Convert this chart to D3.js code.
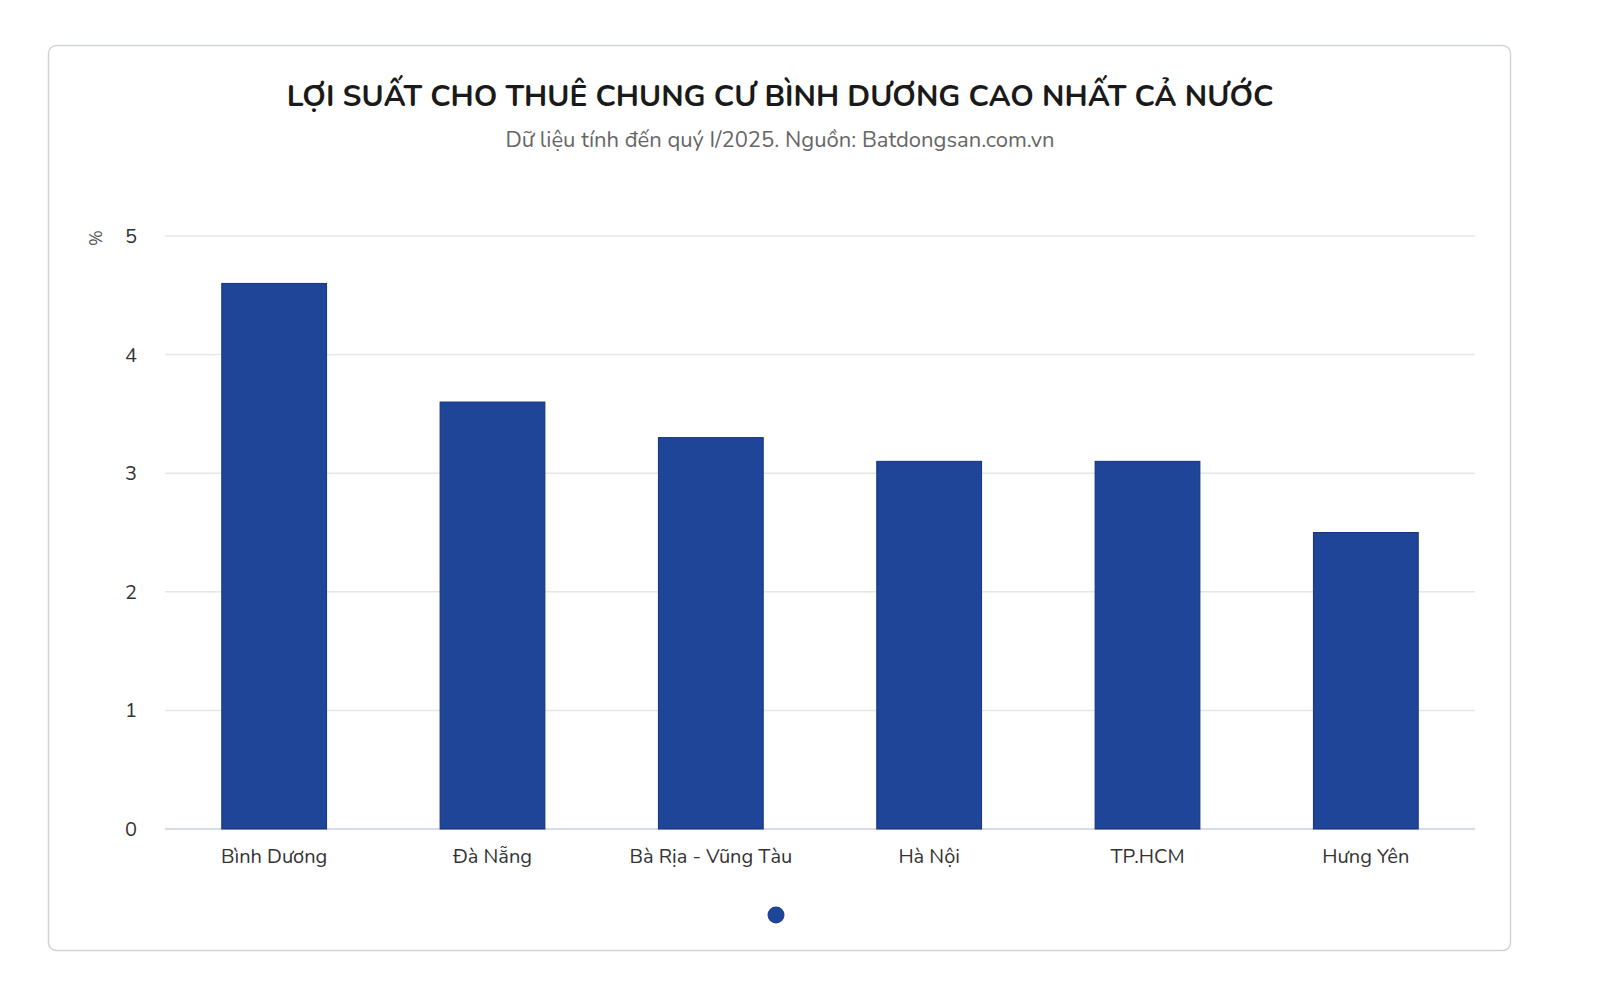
<!DOCTYPE html>
<html><head><meta charset="utf-8">
<script src="https://cdn.jsdelivr.net/npm/d3@7"></script>
<style>body{margin:0;background:#fff;font-family:"Nunito","Lato","Noto Sans",sans-serif;}</style>
</head><body><svg id="c" width="1600" height="1006"></svg>
<script>
var categories = ["Bình Dương", "Đà Nẵng", "Bà Rịa - Vũng Tàu", "Hà Nội", "TP.HCM", "Hưng Yên"];
var values = [4.6, 3.6, 3.3, 3.1, 3.1, 2.5];
var yTicks = [0, 1, 2, 3, 4, 5];

var svg = d3.select("#c");
svg.append("rect").attr("x", 48.5).attr("y", 45.5).attr("width", 1462).attr("height", 905)
    .attr("rx", 8).attr("fill", "#fff").attr("stroke", "#d0d3d8").attr("stroke-width", 1.5);

svg.append("text").attr("x", 780).attr("y", 106).attr("text-anchor", "middle")
    .attr("font-size", 30).attr("font-weight", 700).attr("fill", "#1a1a1a")
    .text("LỢI SUẤT CHO THUÊ CHUNG CƯ BÌNH DƯƠNG CAO NHẤT CẢ NƯỚC");
svg.append("text").attr("x", 780).attr("y", 147).attr("text-anchor", "middle")
    .attr("font-size", 22).attr("fill", "#666")
    .text("Dữ liệu tính đến quý I/2025. Nguồn: Batdongsan.com.vn");

var x = d3.scaleBand().domain(categories).range([165, 1475]).paddingInner(0.52).paddingOuter(0.26);
var y = d3.scaleLinear().domain([0, 5]).range([829, 236]);

var g = svg.append("g");
g.selectAll(".grid").data(yTicks).enter().append("line")
    .attr("x1", 165).attr("x2", 1475).attr("y1", function (d) { return y(d); }).attr("y2", function (d) { return y(d); })
    .attr("stroke", function (d) { return d === 0 ? "#c8d2e0" : "#e6e6e6"; }).attr("stroke-width", 1.5);
g.selectAll(".yl").data(yTicks).enter().append("text")
    .attr("x", 137).attr("y", function (d) { return y(d) + 7; }).attr("text-anchor", "end")
    .attr("font-size", 20).attr("fill", "#333").text(function (d) { return d; });
svg.append("text").attr("transform", "translate(102,238) rotate(-90)").attr("text-anchor", "middle")
    .attr("font-size", 17).attr("fill", "#555").text("%");

g.selectAll(".bar").data(values).enter().append("rect")
    .attr("x", function (d, i) { return x(categories[i]); }).attr("width", x.bandwidth())
    .attr("y", function (d) { return y(d); }).attr("height", function (d) { return y(0) - y(d); })
    .attr("fill", "#1f4599").attr("stroke", "#16337a").attr("stroke-width", 1);

g.selectAll(".xl").data(categories).enter().append("text")
    .attr("x", function (d) { return x(d) + x.bandwidth() / 2; }).attr("y", 863)
    .attr("text-anchor", "middle").attr("font-size", 20).attr("fill", "#333").text(function (d) { return d; });

svg.append("circle").attr("cx", 776).attr("cy", 915).attr("r", 8.5).attr("fill", "#1f4599");
</script></body></html>
